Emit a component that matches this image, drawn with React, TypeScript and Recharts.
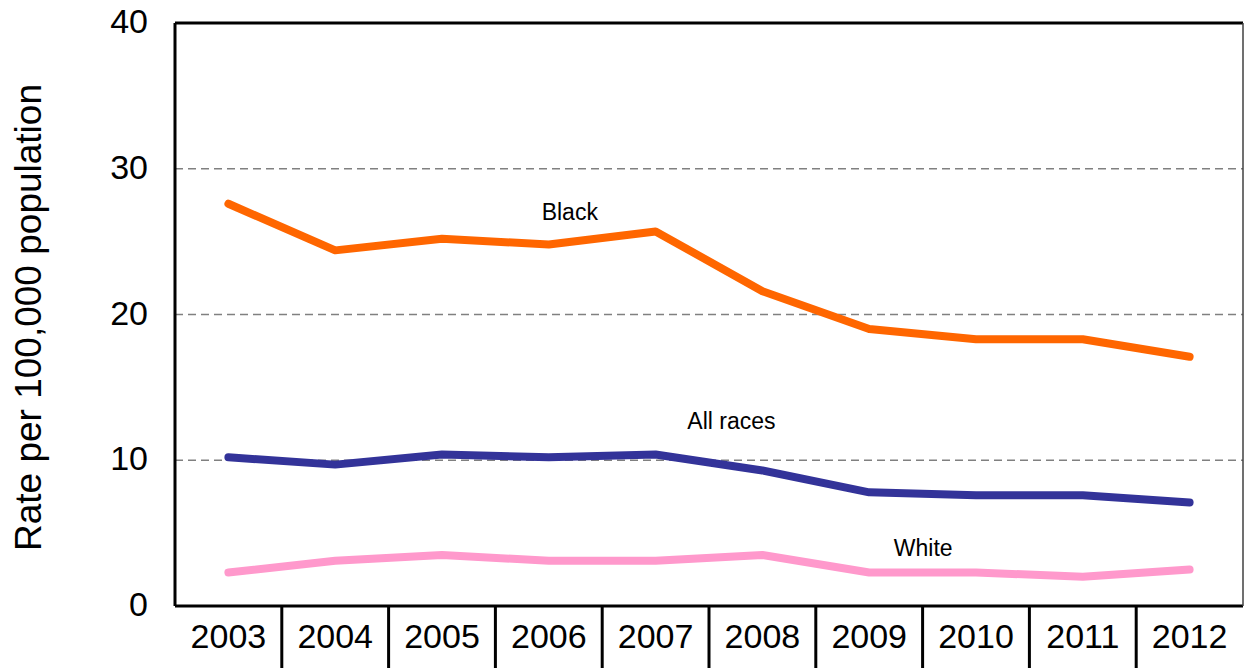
import React from "react"
import {
  CartesianGrid,
  Label,
  Line,
  LineChart,
  ReferenceDot,
  XAxis,
  YAxis,
} from "recharts"

const years = ["2003", "2004", "2005", "2006", "2007", "2008", "2009", "2010", "2011", "2012"]
const black = [27.6, 24.4, 25.2, 24.8, 25.7, 21.6, 19.0, 18.3, 18.3, 17.1]
const allRaces = [10.2, 9.7, 10.4, 10.2, 10.4, 9.3, 7.8, 7.6, 7.6, 7.1]
const white = [2.3, 3.1, 3.5, 3.1, 3.1, 3.5, 2.3, 2.3, 2.0, 2.5]
const yTicks = [0, 10, 20, 30, 40]
const seriesNames = ["Black", "All races", "White"]
const yTitle = "Rate per 100,000 population"

// where each series name sits (category + value), plus a small pixel nudge
const labelAnchors = [
  { year: "2006", value: 27.0, dx: 21 },
  { year: "2008", value: 12.7, dx: -31 },
  { year: "2009", value: 4.0, dx: 54 },
]

const W = 1245
const H = 668
const LEFT = 175
const TOP = 23
const BOTTOM = 62
const PLOT_W = W - LEFT - 2
const BAND = PLOT_W / years.length
const FONT = '"Liberation Sans", Arial, sans-serif'

const data = years.map((year, i) => ({
  year,
  black: black[i],
  all: allRaces[i],
  white: white[i],
}))

const XTick = (props: any) => {
  const { x, y, payload, index } = props
  return (
    <g>
      {index > 0 && (
        <line x1={x - BAND / 2} x2={x - BAND / 2} y1={y} y2={y + BOTTOM} stroke="#000" strokeWidth={3} />
      )}
      <text x={x} y={y + 42} textAnchor="middle" fontSize={34} fontFamily={FONT} fill="#000">
        {payload.value}
      </text>
    </g>
  )
}

const YTick = (props: any) => {
  const { x, y, payload } = props
  return (
    <text x={x} y={y - 2} textAnchor="end" dominantBaseline="central" fontSize={34} fontFamily={FONT} fill="#000">
      {payload.value}
    </text>
  )
}

const YTitle = (props: any) => {
  const vb = props.viewBox || { x: 0, y: TOP, height: H - TOP - BOTTOM }
  const cx = vb.x + 28
  const cy = vb.y + vb.height / 2 + 3
  return (
    <text
      x={cx}
      y={cy}
      transform={`rotate(-90, ${cx}, ${cy})`}
      textAnchor="middle"
      dominantBaseline="central"
      fontSize={37}
      fontFamily={FONT}
      fill="#000"
    >
      {yTitle}
    </text>
  )
}

const seriesLabel = (text: string, dx: number) => (props: any) => {
  const vb = props.viewBox
  return (
    <text
      x={vb.x + vb.width / 2 + dx}
      y={vb.y + vb.height / 2}
      textAnchor="middle"
      dominantBaseline="central"
      fontSize={23}
      fontFamily={FONT}
      fill="#000"
    >
      {text}
    </text>
  )
}

export default function App() {
  return (
    <div style={{ position: "absolute", left: 0, top: 0, background: "#fff" }}>
      <LineChart
        width={W}
        height={H}
        data={data}
        margin={{ top: TOP - 1, right: 1, bottom: 0, left: 0 }}
      >
        <CartesianGrid vertical={false} stroke="#808080" strokeWidth={1.5} strokeDasharray="8 5" />
        <XAxis
          dataKey="year"
          height={BOTTOM}
          padding={{ left: BAND / 2, right: BAND / 2 }}
          tickSize={0}
          tickMargin={0}
          tickLine={false}
          interval={0}
          axisLine={{ stroke: "#000", strokeWidth: 3 }}
          tick={<XTick />}
        />
        {/* top and right frame edges */}
        <XAxis
          xAxisId="top"
          orientation="top"
          dataKey="year"
          height={1}
          padding={{ left: BAND / 2, right: BAND / 2 }}
          tick={false}
          tickLine={false}
          axisLine={{ stroke: "#000", strokeWidth: 3 }}
        />
        <YAxis
          width={LEFT}
          domain={[0, 40]}
          ticks={yTicks}
          interval={0}
          tickSize={0}
          tickMargin={27}
          tickLine={false}
          axisLine={{ stroke: "#000", strokeWidth: 3 }}
          tick={<YTick />}
        >
          <Label content={<YTitle />} />
        </YAxis>
        <YAxis
          yAxisId="right"
          orientation="right"
          width={1}
          domain={[0, 40]}
          tick={false}
          tickLine={false}
          axisLine={{ stroke: "#404040", strokeWidth: 1.5 }}
        />
        <Line
          xAxisId="top"
          yAxisId="right"
          dataKey="white"
          stroke="none"
          dot={false}
          activeDot={false}
          isAnimationActive={false}
        />
        <Line
          dataKey="black"
          stroke="#FF6600"
          strokeWidth={8}
          strokeLinecap="round"
          strokeLinejoin="round"
          dot={false}
          activeDot={false}
          isAnimationActive={false}
        />
        <Line
          dataKey="all"
          stroke="#333399"
          strokeWidth={8}
          strokeLinecap="round"
          strokeLinejoin="round"
          dot={false}
          activeDot={false}
          isAnimationActive={false}
        />
        <Line
          dataKey="white"
          stroke="#FF99CC"
          strokeWidth={8}
          strokeLinecap="round"
          strokeLinejoin="round"
          dot={false}
          activeDot={false}
          isAnimationActive={false}
        />
        {labelAnchors.map((a, i) => (
          <ReferenceDot
            key={seriesNames[i]}
            x={a.year}
            y={a.value}
            r={0}
            fill="none"
            stroke="none"
            label={seriesLabel(seriesNames[i], a.dx)}
          />
        ))}
      </LineChart>
    </div>
  )
}
